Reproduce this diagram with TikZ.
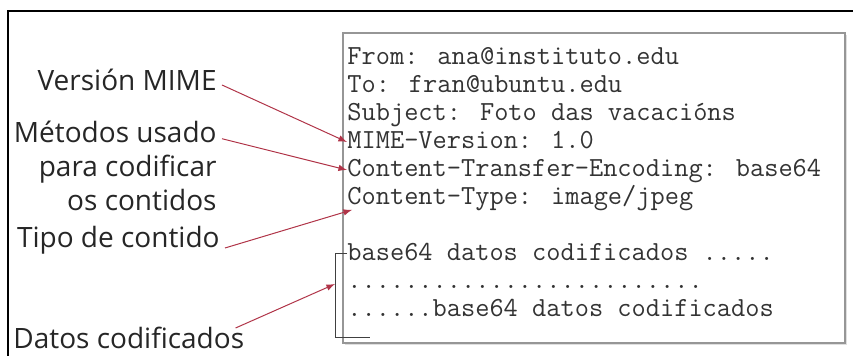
\documentclass[tikz,border=0pt]{standalone}
\usepackage{fontspec}
\setsansfont{Open Sans}
\usetikzlibrary{positioning,arrows,calc,shadows}
\definecolor{arrowred}{RGB}{176,52,72}
\definecolor{boxgray}{RGB}{150,150,150}

\begin{document}
\begin{tikzpicture}[x=0.5pt, y=-0.5pt,
    note/.style={font=\sffamily\fontsize{14}{17}\selectfont, text=black!85, inner sep=0pt, align=right, anchor=east},
    mono/.style={font=\ttfamily\fontsize{13.8}{14}\selectfont, text=black!80, inner sep=0pt, anchor=west, text height=9pt, text depth=2.5pt},
    pointer/.style={->, >=latex, arrowred, line width=0.5pt},
    bracket/.style={draw=black!75, line width=0.5pt}
]
\useasboundingbox (0,0) rectangle (853,356);

% outer frame
\draw[line width=1.2pt] (8,356) |- (853,11);

% mail box
\node[draw=boxgray, fill=white, line width=0.9pt, drop shadow={shadow xshift=0.8pt, shadow yshift=-0.8pt, opacity=0.25}, minimum width=251pt, minimum height=155pt, inner sep=0pt] (mail) at (594,188) {};

% header lines
\node[mono] (from) at (347,58) {From: ana@instituto.edu};
\node[mono] (to) at (347,86) {To: fran@ubuntu.edu};
\node[mono] (subj) at (347,114) {Subject: Foto das vacacións};
\node[mono] (mime) at (347,142) {MIME-Version: 1.0};
\node[mono] (cte) at (347,170) {Content-Transfer-Encoding: base64};
\node[mono] (ct) at (347,198) {Content-Type: image/jpeg};

% body lines
\node[mono] (b64) at (347,254) {base64 datos codificados .....};
\node[mono] (dots) at (347,282) {.........................};
\node[mono] (b64end) at (347,310) {......base64 datos codificados};

% left labels
\node[note] (ver) at (217,80) {Versión MIME};
\node[note] (met) at (217,166) {Métodos usado\\para codificar\\os contidos};
\node[note] (tipo) at (220,240) {Tipo de contido};
\node[note, anchor=west] (datos) at (13,338) {Datos codificados};

% bracket round the data
\coordinate (brk) at (335,338);
\coordinate (brkmid) at (335,284);
\draw[bracket] (b64.west) -| (brk) -- ++(35,0);

% pointers
\draw[pointer] ([shift={(5,5)}]ver.east) -- (mime.west);
\draw[pointer] ([shift={(5,18)}]met.north east) -- (cte.west);
\draw[pointer] ([shift={(5,8)}]tipo.east) -- ([xshift=2.5pt]ct.south west);
\draw[pointer] ([shift={(-9,-10)}]datos.east) -- (brkmid);

\end{tikzpicture}
\end{document}
